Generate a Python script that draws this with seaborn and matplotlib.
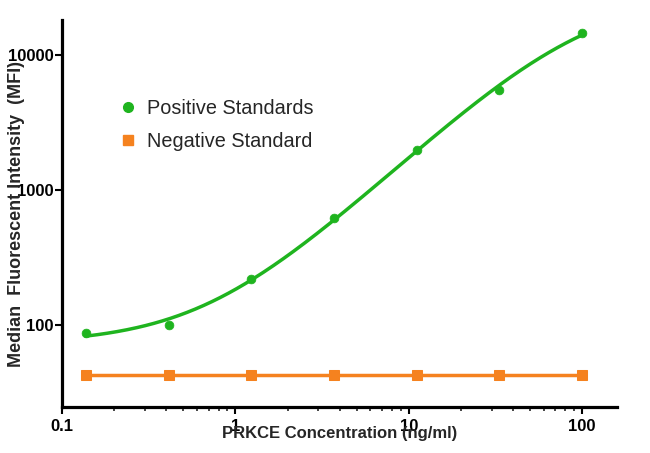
import numpy as np
import pandas as pd
import matplotlib
matplotlib.use("Agg")
import matplotlib.pyplot as plt
from matplotlib.lines import Line2D
from matplotlib.ticker import FixedLocator, FixedFormatter, LogLocator, NullLocator, NullFormatter
import seaborn as sns

# === Data ===
conc = [0.137, 0.412, 1.23, 3.70, 11.1, 33.3, 100]
pos_mfi = [88, 100, 218, 620, 2000, 5500, 14700]
neg_mfi = [43, 43, 43, 43, 43, 43, 43]
x_ticks = [0.1, 1, 10, 100]
x_tick_labels = ["0.1", "1", "10", "100"]
y_ticks = [100, 1000, 10000]
y_tick_labels = ["100", "1000", "10000"]

GREEN = "#1fb41f"
ORANGE = "#f5821f"


# === 4PL fit (grid search in log space) ===
def fit_4pl(x, y):
    ly = np.log10(y)
    A = np.linspace(50, 95, 19)[:, None, None, None]
    D = np.logspace(4, 5.5, 31)[None, :, None, None]
    C = np.logspace(0.5, 3, 51)[None, None, :, None]
    B = np.linspace(0.8, 1.8, 41)[None, None, None, :]
    err = 0
    for xi, yi in zip(x, ly):
        pred = D + (A - D) / (1 + (xi / C) ** B)
        err = err + (np.log10(pred) - yi) ** 2
    i = np.unravel_index(np.argmin(err), err.shape)
    return A.ravel()[i[0]], D.ravel()[i[1]], C.ravel()[i[2]], B.ravel()[i[3]]


a, d, c, b = fit_4pl(conc, pos_mfi)
x_fit = np.logspace(np.log10(conc[0]), np.log10(conc[-1]), 300)
fit_df = pd.DataFrame({"conc": x_fit, "mfi": d + (a - d) / (1 + (x_fit / c) ** b)})
pos_df = pd.DataFrame({"conc": conc, "mfi": pos_mfi})
neg_df = pd.DataFrame({"conc": conc, "mfi": neg_mfi})

# === Plot ===
sns.set_style("ticks")
plt.rcParams["font.family"] = ["Liberation Sans", "DejaVu Sans"]

fig = plt.figure(figsize=(6.5, 4.53), dpi=100)
ax = fig.add_axes([0.0954, 0.1015, 0.854, 0.854])

sns.lineplot(data=fit_df, x="conc", y="mfi", color=GREEN, linewidth=2.5, ax=ax)
sns.scatterplot(data=pos_df, x="conc", y="mfi", color=GREEN, s=40, edgecolor=GREEN, ax=ax, zorder=3)
sns.lineplot(data=neg_df, x="conc", y="mfi", color=ORANGE, linewidth=2.5,
             marker="s", markersize=7, markeredgecolor=ORANGE, ax=ax)

ax.set_xscale("log")
ax.set_yscale("log")
ax.set_xlim(0.1, 159)
ax.set_ylim(24.7, 18200)

ax.xaxis.set_major_locator(FixedLocator(x_ticks))
ax.xaxis.set_major_formatter(FixedFormatter(x_tick_labels))
ax.xaxis.set_minor_locator(LogLocator(base=10, subs=np.arange(2, 10)))
ax.xaxis.set_minor_formatter(NullFormatter())
ax.yaxis.set_major_locator(FixedLocator(y_ticks))
ax.yaxis.set_major_formatter(FixedFormatter(y_tick_labels))
ax.yaxis.set_minor_locator(NullLocator())

for lab in ax.get_xticklabels() + ax.get_yticklabels():
    lab.set_fontweight("bold")
    lab.set_fontsize(12)
ax.tick_params(which="major", direction="out", length=5, width=1.5, colors="black")
ax.tick_params(axis="x", which="major", pad=3.5)
ax.tick_params(axis="y", which="major", pad=1)
ax.tick_params(axis="x", which="minor", direction="out", length=3, width=1.2)

sns.despine(ax=ax)
for side in ["left", "bottom"]:
    ax.spines[side].set_linewidth(2.3)
    ax.spines[side].set_color("black")

ax.set_xlabel("PRKCE Concentration (ng/ml)", fontsize=12, fontweight="bold")
ax.set_ylabel("Median  Fluorescent Intensity  (MFI)", fontsize=13, fontweight="bold")
ax.xaxis.set_label_coords(0.5, -0.049)
ax.yaxis.set_label_coords(-0.067, 0.5)

handles = [
    Line2D([], [], linestyle="none", marker="o", markersize=7, color=GREEN),
    Line2D([], [], linestyle="none", marker="s", markersize=7, color=ORANGE),
]
ax.legend(handles, ["Positive Standards", "Negative Standard"], loc="upper left",
          bbox_to_anchor=(0.069, 0.843), frameon=False, fontsize=14.3,
          handlelength=1.0, handletextpad=0.45, labelspacing=0.71)

fig.savefig("out.png", dpi=100)
